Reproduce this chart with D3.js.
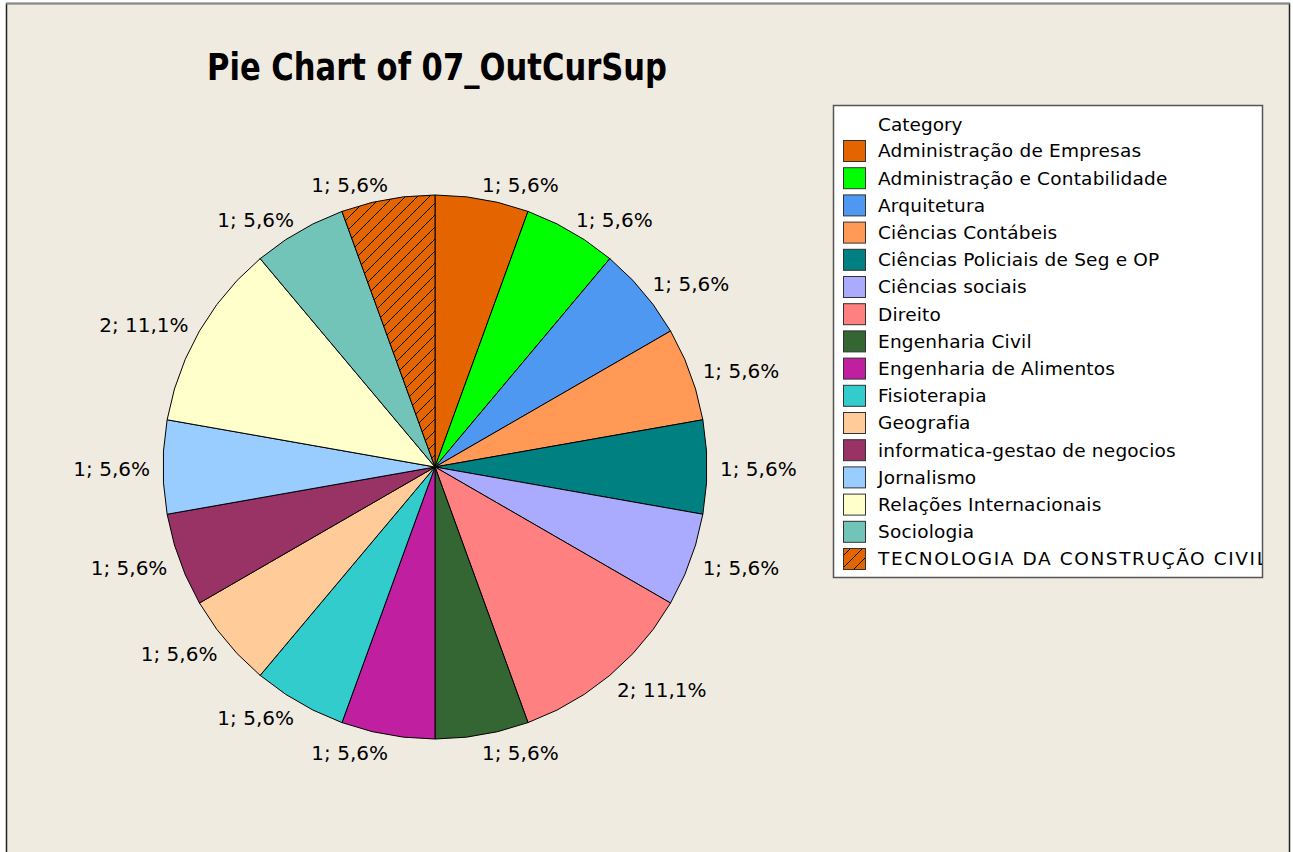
<!DOCTYPE html>
<html>
<head>
<meta charset="utf-8">
<style>
  html, body { margin: 0; padding: 0; background: #ffffff; }
  svg { display: block; }
  text { font-family: "DejaVu Sans", Verdana, sans-serif; fill: #000; }
</style>
</head>
<body>
<svg id="chart"></svg>
<script src="https://d3js.org/d3.v7.min.js"></script>
<script>

// data
var categories = [
  "Administração de Empresas",
  "Administração e Contabilidade",
  "Arquitetura",
  "Ciências Contábeis",
  "Ciências Policiais de Seg e OP",
  "Ciências sociais",
  "Direito",
  "Engenharia Civil",
  "Engenharia de Alimentos",
  "Fisioterapia",
  "Geografia",
  "informatica-gestao de negocios",
  "Jornalismo",
  "Relações Internacionais",
  "Sociologia",
  "TECNOLOGIA DA CONSTRUÇÃO CIVIL"
];
var counts = [1, 1, 1, 1, 1, 1, 2, 1, 1, 1, 1, 1, 1, 2, 1, 1];
var colors = ["#e46400", "#00ff00", "#4f98f2", "#ff9955", "#008080", "#aaaaff",
              "#ff8080", "#336633", "#c020a0", "#33cccc", "#ffcc99", "#993366",
              "#99ccff", "#ffffcc", "#73c4b8", "hatch"];

var W = 1293, H = 852;
var cx = 435, cy = 467, r = 272;
var bg = "#f0ebe1";

var svg = d3.select("#chart").attr("width", W).attr("height", H);
var defs = svg.append("defs");

// hatched orange fill for the last category
var pat = defs.append("pattern")
    .attr("id", "hatch")
    .attr("patternUnits", "userSpaceOnUse")
    .attr("width", 12).attr("height", 12);
pat.append("rect").attr("width", 12).attr("height", 12).attr("fill", "#e46400");
pat.append("path")
    .attr("d", "M-3,3 L3,-3 M0,12 L12,0 M9,15 L15,9")
    .attr("stroke", "#000").attr("stroke-width", 1);

function fillOf(i) { return colors[i] === "hatch" ? "url(#hatch)" : colors[i]; }

// frame
svg.append("rect")
    .attr("x", 6.5).attr("y", 3.5)
    .attr("width", 1283).attr("height", 860)
    .attr("fill", bg)
    .attr("stroke", "#222").attr("stroke-width", 1.5);
svg.append("line")
    .attr("x1", 6).attr("x2", 1290).attr("y1", 3.5).attr("y2", 3.5)
    .attr("stroke", "#888").attr("stroke-width", 1.5);

// title
svg.append("text")
    .attr("x", 437).attr("y", 80)
    .attr("text-anchor", "middle")
    .attr("textLength", 460)
    .attr("lengthAdjust", "spacingAndGlyphs")
    .style("font-size", "37px")
    .style("font-weight", "bold")
    .text("Pie Chart of 07_OutCurSup");

// pie
var total = d3.sum(counts);
var pie = d3.pie().sort(null).value(function(d) { return d; });
var arcs = pie(counts);

// minitab draws the rim as short straight segments
var radial = d3.lineRadial()
    .angle(function(p) { return p[0]; })
    .radius(function(p) { return p[1]; })
    .curve(d3.curveLinearClosed);

function slicePoints(a) {
  var span = a.endAngle - a.startAngle;
  var n = Math.max(1, Math.ceil(span / (8 * Math.PI / 180)));
  var pts = [[0, 0]];
  for (var k = 0; k <= n; k++) pts.push([a.startAngle + span * k / n, r]);
  return pts;
}

var g = svg.append("g").attr("transform", "translate(" + cx + "," + cy + ")");

g.selectAll("path.slice")
    .data(arcs)
  .enter().append("path")
    .attr("class", "slice")
    .attr("d", function(d) { return radial(slicePoints(d)); })
    .attr("fill", function(d, i) { return fillOf(i); })
    .attr("stroke", "#000")
    .attr("stroke-width", 1)
    .attr("stroke-linejoin", "round");

var fmt = function(v) { return (v / total * 100).toFixed(1).replace(".", ","); };

g.selectAll("text.lab")
    .data(arcs)
  .enter().append("text")
    .attr("class", "lab")
    .attr("x", function(d) {
      var a = (d.startAngle + d.endAngle) / 2;
      return 288 * Math.sin(a) + (a < Math.PI ? -3 : 3);
    })
    .attr("y", function(d) {
      var a = (d.startAngle + d.endAngle) / 2;
      return -288 * Math.cos(a) + 2;
    })
    .attr("dy", "0.35em")
    .attr("text-anchor", function(d) {
      return (d.startAngle + d.endAngle) / 2 < Math.PI ? "start" : "end";
    })
    .style("font-size", "20px")
    .text(function(d) { return d.value + "; " + fmt(d.value) + "%"; });

// legend
var lx = 833, ly = 105, lw = 429, lh = 472;
defs.append("clipPath").attr("id", "legclip")
  .append("rect").attr("x", lx).attr("y", ly).attr("width", lw).attr("height", lh);

svg.append("rect")
    .attr("x", lx + 0.5).attr("y", ly + 0.5)
    .attr("width", lw).attr("height", lh)
    .attr("fill", "#fff")
    .attr("stroke", "#555").attr("stroke-width", 1.5);

var leg = svg.append("g").attr("clip-path", "url(#legclip)");

leg.append("text")
    .attr("x", 878).attr("y", 125).attr("dy", "0.35em")
    .style("font-size", "18.5px")
    .text("Category");

var row = d3.scaleLinear().domain([0, 15]).range([151, 559]);

var item = leg.selectAll("g.item")
    .data(categories)
  .enter().append("g")
    .attr("class", "item")
    .attr("transform", function(d, i) { return "translate(0," + row(i) + ")"; });

item.append("rect")
    .attr("x", 843.5).attr("y", -10.5)
    .attr("width", 22).attr("height", 21)
    .attr("fill", function(d, i) { return fillOf(i); })
    .attr("stroke", "#333").attr("stroke-width", 1);

item.append("text")
    .attr("x", 878).attr("dy", "0.35em")
    .style("font-size", "18.5px")
    .style("letter-spacing", function(d, i) { return i === categories.length - 1 ? "1.6px" : "0.2px"; })
    .text(function(d) { return d; });

</script>
</body>
</html>
